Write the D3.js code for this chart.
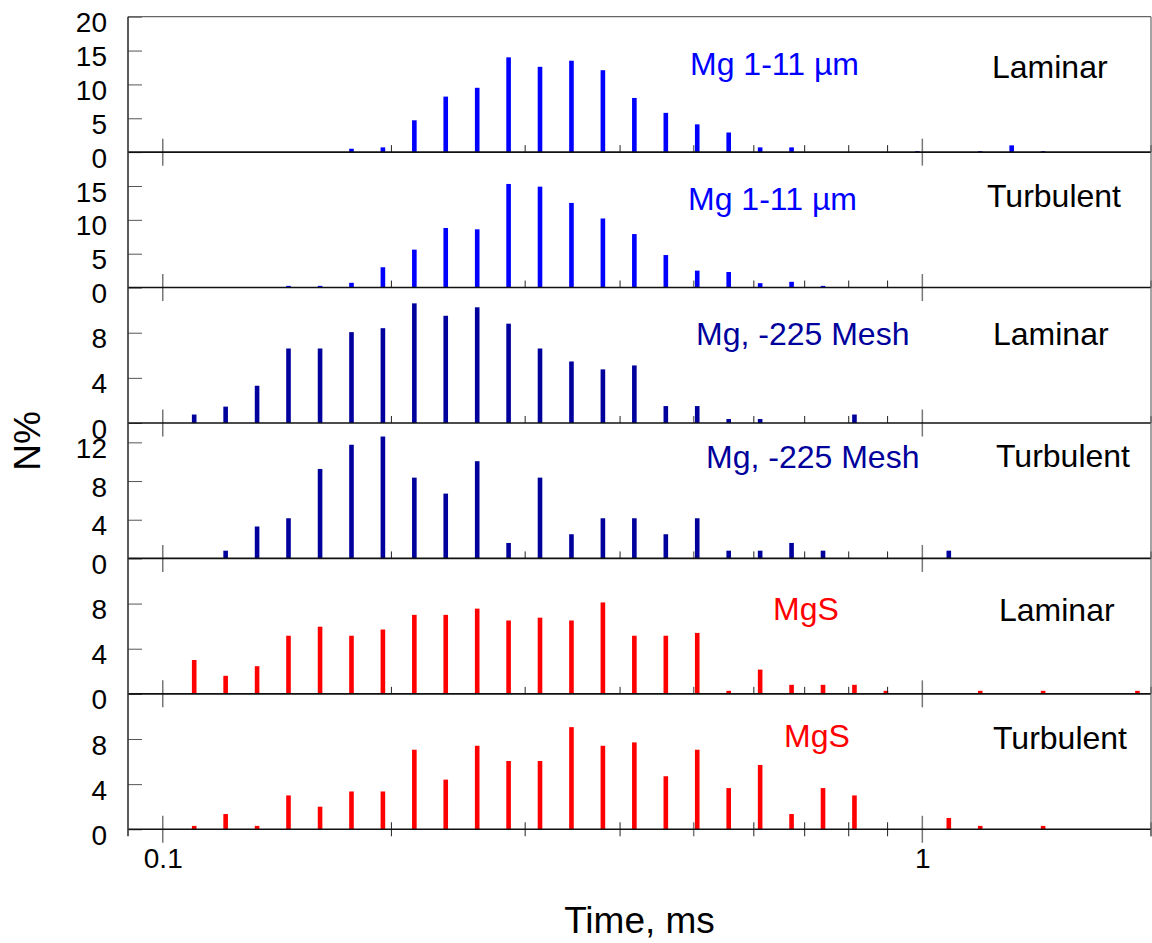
<!DOCTYPE html>
<html lang="en">
<head>
  <meta charset="UTF-8">
  <title>N% vs time</title>
  <script src="https://d3js.org/d3.v7.min.js"></script>
  <style>
    body {
      margin: 0;
      background: #fff;
    }
    text {
      font-family: Arial, "Liberation Sans", sans-serif;
    }
  </style>
</head>
<body>
  <script>
    // Time bins, ms
    const times = [0.110, 0.121, 0.1331, 0.1464, 0.1611, 0.1772, 0.1949, 0.2144, 0.2358, 0.2594,
      0.2853, 0.3138, 0.3452, 0.3797, 0.4177, 0.4595, 0.5054, 0.5560, 0.6116, 0.6727,
      0.7400, 0.8140, 0.8954, 0.9850, 1.0835, 1.1918, 1.3110, 1.4421, 1.5863, 1.7449, 1.9194];

    // N% per bin
    const mgFineLaminar = [0, 0, 0, 0, 0, 0.5, 0.7, 4.7, 8.2, 9.5,
      14.0, 12.6, 13.5, 12.1, 8.0, 5.8, 4.1, 2.9, 0.7, 0.7,
      0, 0, 0, 0.15, 0, 0.15, 1.0, 0.15, 0, 0, 0];
    const mgFineTurbulent = [0, 0, 0, 0.25, 0.25, 0.7, 3.0, 5.6, 8.8, 8.6,
      15.3, 14.9, 12.5, 10.2, 7.9, 4.8, 2.5, 2.3, 0.65, 0.85,
      0.25, 0, 0, 0, 0, 0, 0, 0, 0, 0, 0];
    const mgMeshLaminar = [0.75, 1.45, 3.3, 6.6, 6.6, 8.05, 8.4, 10.6, 9.5, 10.25,
      8.8, 6.6, 5.45, 4.75, 5.1, 1.5, 1.5, 0.35, 0.35, 0,
      0, 0.75, 0, 0, 0, 0, 0, 0, 0, 0, 0];
    const mgMeshTurbulent = [0, 0.8, 3.3, 4.15, 9.25, 11.75, 12.6, 8.35, 6.7, 10.05,
      1.6, 8.35, 2.5, 4.15, 4.15, 2.5, 4.15, 0.8, 0.8, 1.6,
      0.8, 0, 0, 0, 0.8, 0, 0, 0, 0, 0, 0];
    const mgsLaminar = [3.0, 1.6, 2.45, 5.15, 5.95, 5.15, 5.7, 7.0, 7.0, 7.55,
      6.5, 6.75, 6.5, 8.1, 5.15, 5.15, 5.4, 0.27, 2.15, 0.8,
      0.8, 0.8, 0.27, 0, 0, 0.27, 0, 0.27, 0, 0, 0.27];
    const mgsTurbulent = [0.3, 1.35, 0.3, 3.0, 2.0, 3.35, 3.35, 7.05, 4.4, 7.4,
      6.05, 6.05, 9.05, 7.4, 7.7, 4.7, 7.05, 3.65, 5.7, 1.35,
      3.65, 3.0, 0, 0, 1.0, 0.3, 0, 0.3, 0, 0, 0];

    const seriesNames = ["Mg 1-11 \u00b5m", "Mg 1-11 \u00b5m", "Mg, -225 Mesh", "Mg, -225 Mesh", "MgS", "MgS"];
    const regimes = ["Laminar", "Turbulent", "Laminar", "Turbulent", "Laminar", "Turbulent"];
    const yMax = [20, 20, 12, 14, 12, 12];
    const yTicks = [[0, 5, 10, 15, 20], [0, 5, 10, 15], [0, 4, 8], [0, 4, 8, 12], [0, 4, 8], [0, 4, 8]];
    const xLabelTicks = [0.1, 1];
    const xMinorTicks = [0.2, 0.3, 0.4, 0.5, 0.6, 0.7, 0.8, 0.9, 2];

    const values = [mgFineLaminar, mgFineTurbulent, mgMeshLaminar, mgMeshTurbulent, mgsLaminar, mgsTurbulent];

    // styling per panel
    const barColors = ["#0000ff", "#0000ff", "#00009c", "#00009c", "#ff0000", "#ff0000"];
    const namePos = [[690, 75], [688, 210], [696, 345], [706, 468], [773, 620], [784, 747]];
    const regimePos = [[992, 78], [987, 207], [993, 345], [996, 467], [999, 621], [993, 749]];

    const width = 1152;
    const height = 943;
    const plotLeft = 128, plotRight = 1151, plotTop = 16.7, panelH = 135.43;

    const svg = d3.select("body")
      .append("svg")
      .attr("width", width)
      .attr("height", height);

    const x = d3.scaleLog().domain([0.09, 2]).range([plotLeft, plotRight]);

    values.forEach((vals, i) => {
      const y0 = plotTop + panelH * (i + 1);
      const y = d3.scaleLinear().domain([0, yMax[i]]).range([y0, plotTop + panelH * i]);
      const g = svg.append("g");

      // bars
      g.selectAll("rect")
        .data(times.map((t, j) => ({ t: t, v: vals[j] })).filter(d => d.v > 0))
        .enter()
        .append("rect")
        .attr("x", d => x(d.t) - 2.3)
        .attr("width", 4.6)
        .attr("y", d => y(d.v))
        .attr("height", d => y(0) - y(d.v))
        .attr("fill", barColors[i]);

      // y axis, ticks pointing inward
      const ax = g.append("g")
        .attr("transform", `translate(${plotLeft},0)`)
        .call(d3.axisLeft(y).tickValues(yTicks[i]).tickSize(-14).tickSizeOuter(0).tickPadding(21));
      ax.select(".domain").remove();
      ax.selectAll("line").attr("stroke", "#555");
      ax.selectAll("text")
        .attr("font-size", 28)
        .attr("font-family", "Arial, 'Liberation Sans', sans-serif")
        .attr("fill", "#000")
        .attr("dy", "0.54em");

      // x ticks on the zero line
      const last = i === values.length - 1;
      g.selectAll(".minor")
        .data(xMinorTicks)
        .enter()
        .append("line")
        .attr("x1", d => x(d)).attr("x2", d => x(d))
        .attr("y1", y0 - 7).attr("y2", last ? y0 + 7 : y0)
        .attr("stroke", d => d === 0.5 ? "#777" : "#222")
        .attr("stroke-width", d => d === 0.5 ? 1.5 : 1);
      g.selectAll(".major")
        .data(xLabelTicks)
        .enter()
        .append("line")
        .attr("x1", d => x(d)).attr("x2", d => x(d))
        .attr("y1", y0 - 13.5).attr("y2", y0 + 13.5)
        .attr("stroke", "#777")
        .attr("stroke-width", 1.5);

      // zero line
      g.append("line")
        .attr("x1", plotLeft).attr("x2", plotRight)
        .attr("y1", y0).attr("y2", y0)
        .attr("stroke", "#111")
        .attr("stroke-width", 1.6);

      g.append("text")
        .attr("x", namePos[i][0]).attr("y", namePos[i][1])
        .attr("font-size", 32)
        .attr("fill", barColors[i])
        .text(seriesNames[i]);

      g.append("text")
        .attr("x", regimePos[i][0]).attr("y", regimePos[i][1])
        .attr("font-size", 32)
        .attr("fill", "#000")
        .text(regimes[i]);
    });

    const plotBottom = plotTop + panelH * 6;

    // frame
    svg.append("line")
      .attr("x1", plotLeft).attr("x2", plotRight)
      .attr("y1", plotTop).attr("y2", plotTop)
      .attr("stroke", "#666").attr("stroke-width", 1.2);
    svg.append("line")
      .attr("x1", plotRight).attr("x2", plotRight)
      .attr("y1", plotTop).attr("y2", plotBottom + 7)
      .attr("stroke", "#666").attr("stroke-width", 1.2);
    svg.append("line")
      .attr("x1", plotLeft).attr("x2", plotLeft)
      .attr("y1", plotTop).attr("y2", plotBottom + 7)
      .attr("stroke", "#333").attr("stroke-width", 1.6);

    // x tick labels
    const xa = svg.append("g")
      .attr("transform", `translate(0,${plotBottom})`)
      .call(d3.axisBottom(x).tickValues(xLabelTicks).tickFormat(d3.format("")).tickSize(0).tickPadding(0));
    xa.select(".domain").remove();
    xa.selectAll("text")
      .attr("font-size", 28)
      .attr("font-family", "Arial, 'Liberation Sans', sans-serif")
      .attr("fill", "#000")
      .attr("dy", null)
      .attr("y", 39);

    svg.append("text")
      .attr("x", (plotLeft + plotRight) / 2)
      .attr("y", 933)
      .attr("text-anchor", "middle")
      .attr("font-size", 37)
      .text("Time, ms");

    svg.append("text")
      .attr("transform", "translate(40,441) rotate(-90)")
      .attr("text-anchor", "middle")
      .attr("font-size", 37)
      .text("N%");
  </script>
</body>
</html>
